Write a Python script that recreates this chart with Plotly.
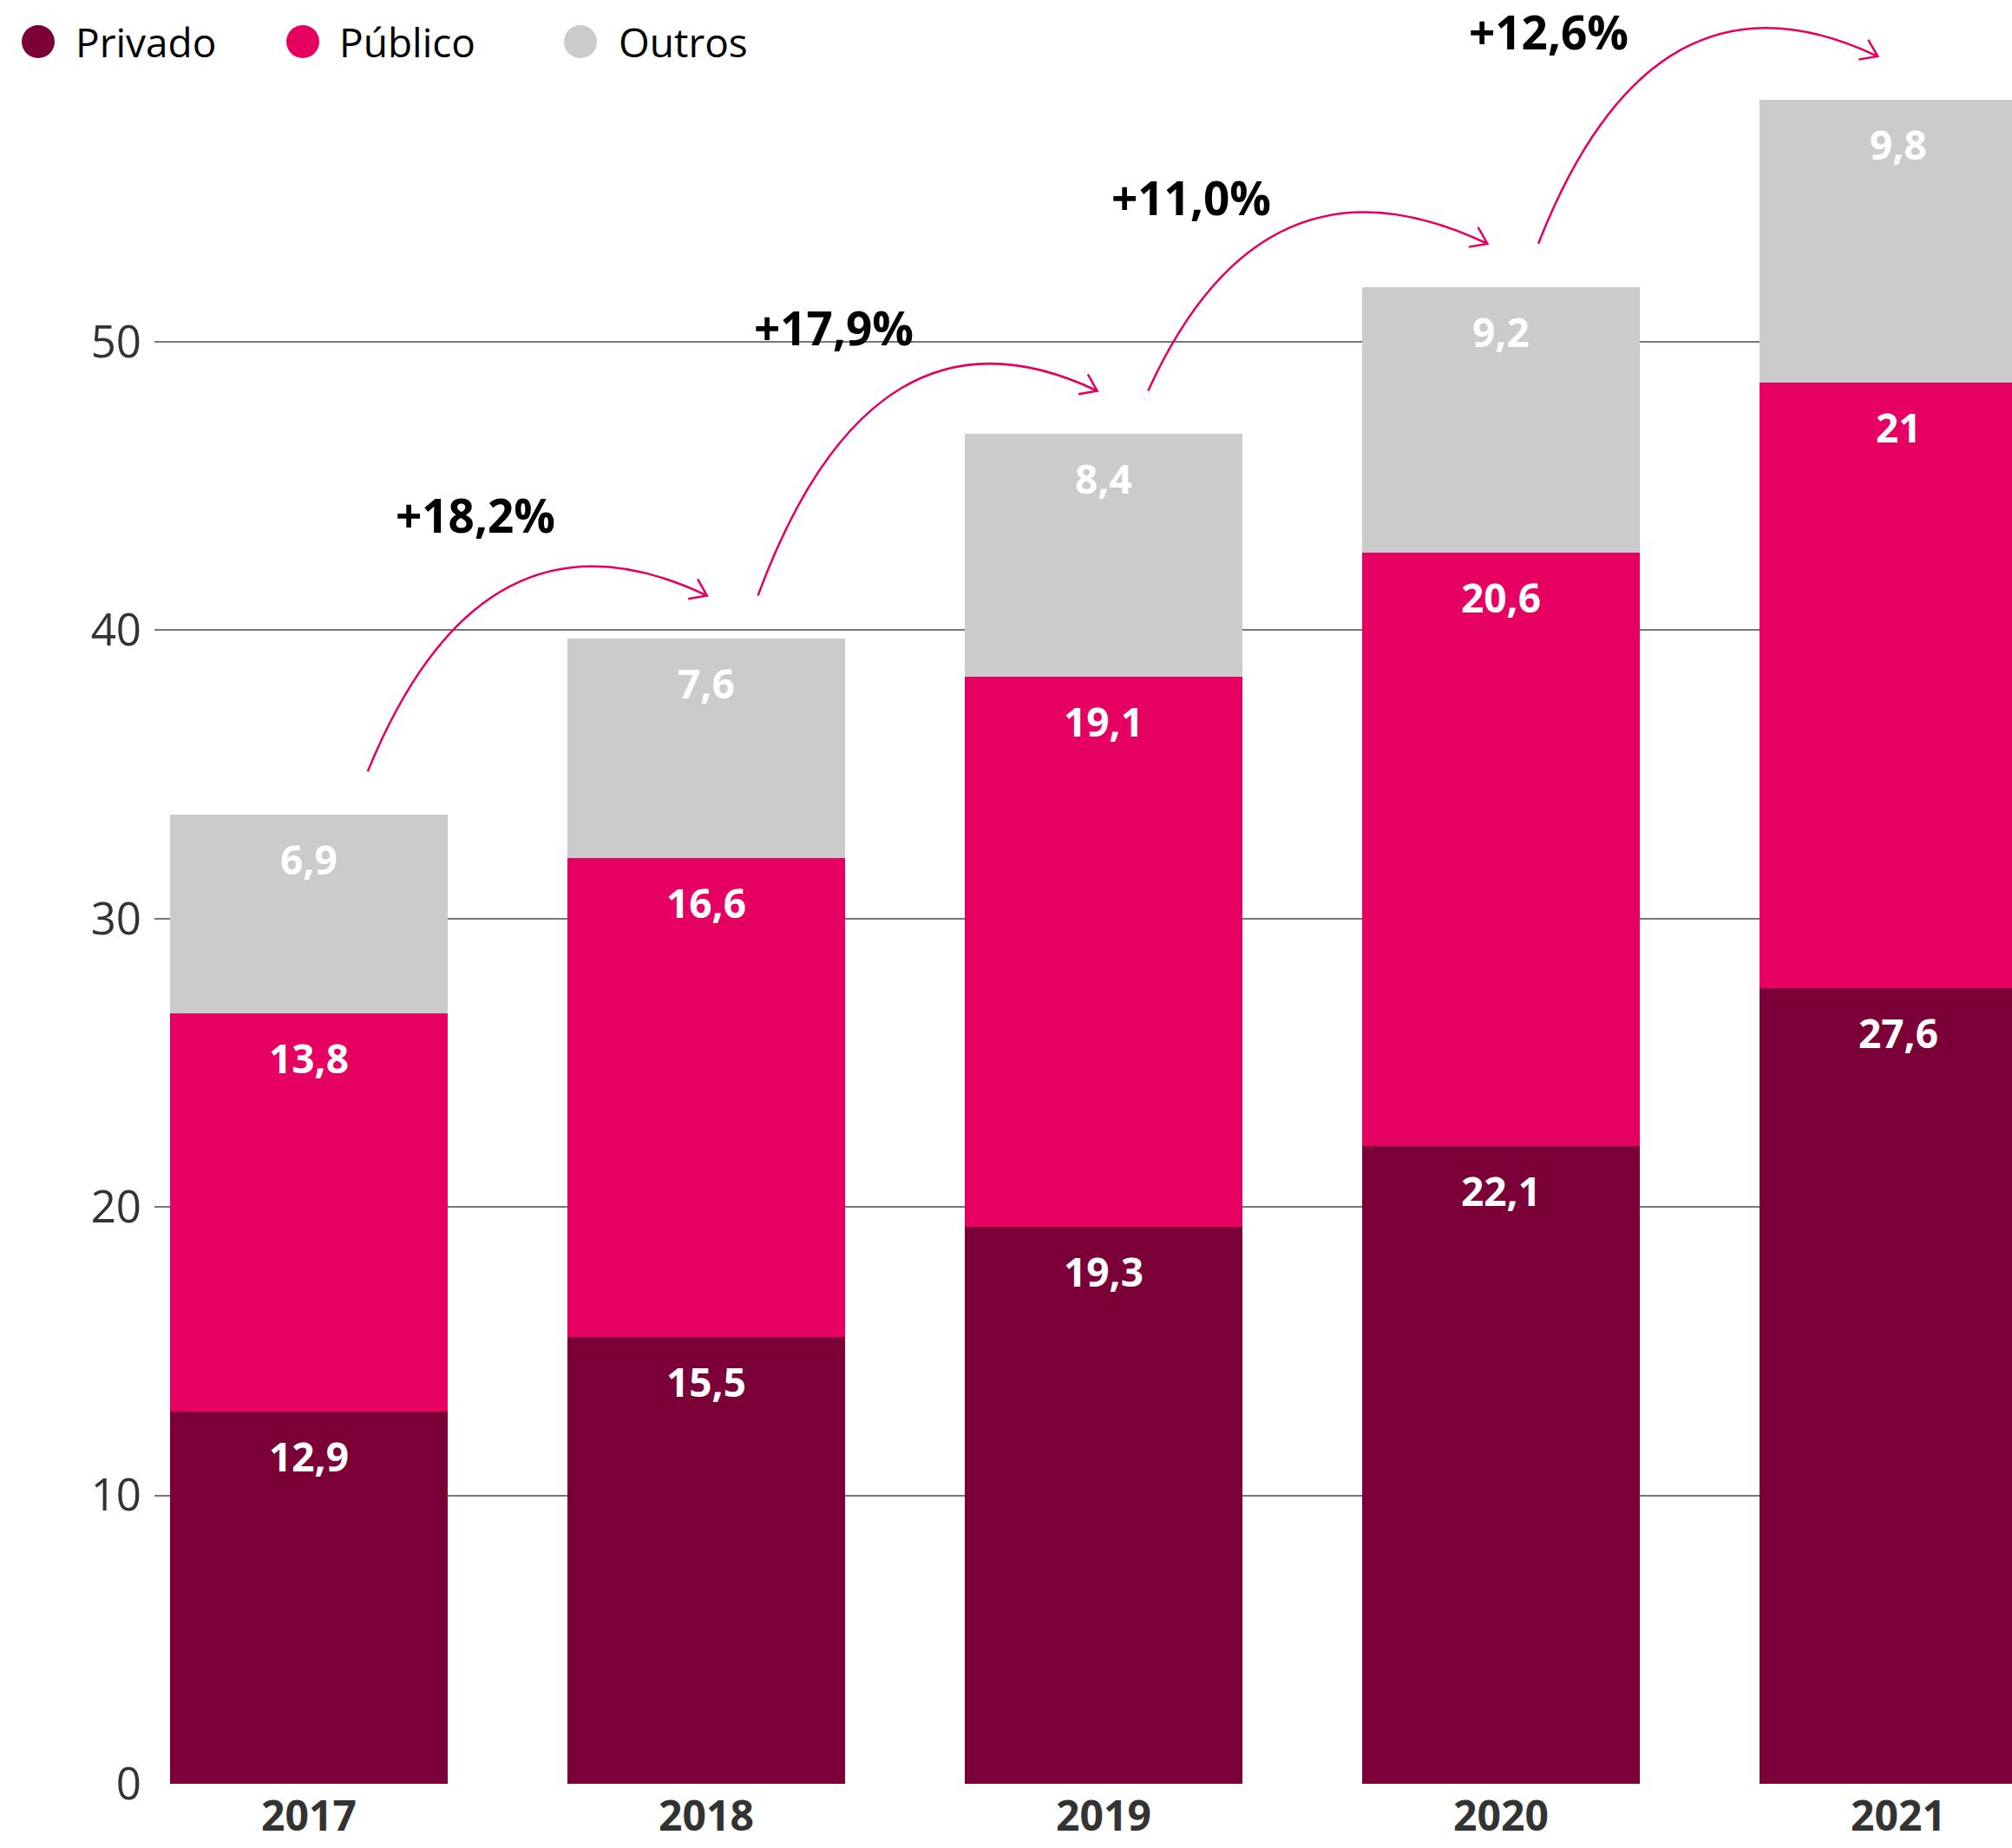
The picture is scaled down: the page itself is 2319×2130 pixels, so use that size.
import math
import plotly.graph_objects as go

# ---------------- data ----------------
years = ["2017", "2018", "2019", "2020", "2021"]
privado = [12.9, 15.5, 19.3, 22.1, 27.6]
publico = [13.8, 16.6, 19.1, 20.6, 21.0]
outros = [6.9, 7.6, 8.4, 9.2, 9.8]
series_names = ["Privado", "Público", "Outros"]
growth_labels = ["+18,2%", "+17,9%", "+11,0%", "+12,6%"]
y_ticks = [0, 10, 20, 30, 40, 50]

# ---------------- style ----------------
colors = ["#7b0037", "#e50062", "#cbcbcb"]
pink_line = "#e5005f"
FONT = "Open Sans"
W, H = 2319, 2130
ML, MR, MT, MB = 178, 0, 0, 74
PX_X = 458.0          # pixels per category
PX_Y = 33.24          # pixels per unit
x_lo = -ML / PX_X
x_hi = x_lo + (W - ML - MR) / PX_X
y_hi = (H - MT - MB) / PX_Y

series = [privado, publico, outros]

fig = go.Figure()
for name, vals, col in zip(series_names, series, colors):
    fig.add_trace(go.Bar(x=years, y=vals, name=name, marker=dict(color=col, line=dict(width=0)),
                         width=0.7, showlegend=False, hoverinfo="x+y+name"))

def fmt(v):
    return f"{v:g}".replace(".", ",")

annotations = []
shapes = []
totals = [0.0] * len(years)
for vals in series:
    for i, v in enumerate(vals):
        top = totals[i] + v
        annotations.append(dict(x=i, y=top, xref="x", yref="y", text=fmt(v), showarrow=False,
                                yshift=-51, yanchor="middle", xanchor="center",
                                font=dict(family=FONT, size=46, color="white", weight=700)))
        totals[i] = top

# growth arrows (quadratic curves) between consecutive bar tops
for i in range(len(years) - 1):
    sx, sy = i + 0.148 - 0.018 * i, totals[i] + 1.5
    ex, ey = sx + 0.854, totals[i + 1] + 1.5
    cx, cy = sx + 0.34 * (ex - sx), ey + 3.7
    vx, vy = (ex - cx) * PX_X, (ey - cy) * PX_Y
    n = math.hypot(vx, vy)
    ux, uy = vx / n, vy / n
    L, ang = 22, math.radians(35)
    heads = []
    for s in (1, -1):
        ca, sa = math.cos(s * ang), math.sin(s * ang)
        rx, ry = ux * ca - uy * sa, ux * sa + uy * ca
        heads.append((ex - L * rx / PX_X, ey - L * ry / PX_Y))
    path = (f"M {sx},{sy} Q {cx},{cy} {ex},{ey} "
            f"M {heads[0][0]},{heads[0][1]} L {ex},{ey} L {heads[1][0]},{heads[1][1]}")
    shapes.append(dict(type="path", path=path, xref="x", yref="y",
                       line=dict(color=pink_line, width=2.5), layer="above"))
    ly = min(totals[i + 1] + 4.3 - 0.6 * i, y_hi - 36 / PX_Y)
    annotations.append(dict(x=i + 0.42 - 0.1 * i, y=ly, xref="x", yref="y",
                            text=growth_labels[i], showarrow=False, xanchor="center", yanchor="middle",
                            font=dict(family=FONT, size=53, color="black", weight=700)))

# custom legend (round markers)
plot_w = W - ML - MR
plot_h = H - MT - MB
leg_marker_px = [44, 349, 669]
leg_text_px = [85, 389, 711]
leg_y_px = 48
for name, col, mx, tx in zip(series_names, colors, leg_marker_px, leg_text_px):
    shapes.append(dict(type="circle", xref="paper", yref="paper", xsizemode="pixel", ysizemode="pixel",
                       xanchor=(mx - ML) / plot_w, yanchor=1 - (leg_y_px - MT) / plot_h,
                       x0=-19, x1=19, y0=-19, y1=19, fillcolor=col, line=dict(width=0)))
    annotations.append(dict(x=(tx - ML) / plot_w, y=1 - (leg_y_px - MT) / plot_h, xref="paper", yref="paper",
                            text=name, showarrow=False, xanchor="left", yanchor="middle",
                            font=dict(family=FONT, size=46, color="black")))

fig.update_layout(
    barmode="stack",
    width=W, height=H,
    margin=dict(l=ML, r=MR, t=MT, b=MB, pad=0, autoexpand=False),
    plot_bgcolor="white", paper_bgcolor="white",
    font=dict(family=FONT, color="#333333"),
    annotations=annotations,
    shapes=shapes,
    showlegend=False,
)
fig.update_xaxes(range=[x_lo, x_hi], showgrid=False, zeroline=False, showline=False, ticks="", automargin=False,
                 tickfont=dict(family=FONT, size=48, color="#333333", weight=700), ticklabelstandoff=5)
fig.update_yaxes(range=[0, y_hi], tickvals=y_ticks, showgrid=True, gridcolor="#777777", gridwidth=1.5,
                 zeroline=False, showline=False, ticks="", ticklabelstandoff=14, automargin=False,
                 tickfont=dict(family=FONT, size=51, color="#333333"))

fig.write_html("out.html", config={"displayModeBar": False},
               post_script="document.body.style.margin='0px';document.body.style.overflow='hidden';")
